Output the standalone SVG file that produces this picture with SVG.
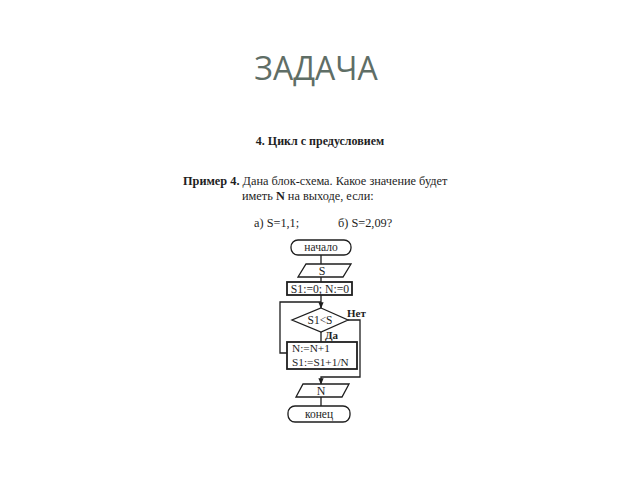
<svg xmlns="http://www.w3.org/2000/svg" width="640" height="480" viewBox="0 0 640 480">
<style>
.bg{fill:#ffffff}
.title{font-family:"Open Sans","Noto Sans",sans-serif;font-size:32px;fill:#5f6e66}
.t{font-family:"Liberation Serif","DejaVu Serif",serif;fill:#1e1e1e}
.b{font-weight:bold}
.shape{fill:#ffffff;stroke:#1e1e1e;stroke-width:1.3}
.thick{stroke-width:1.8}
.line{fill:none;stroke:#1e1e1e;stroke-width:1.3}
</style>
<defs>
<marker id="arr" viewBox="0 0 10 10" refX="9" refY="5" markerWidth="5" markerHeight="5" orient="auto">
<path d="M0,1 L10,5 L0,9 z" fill="#1e1e1e"/>
</marker>
</defs>
<rect class="bg" x="0" y="0" width="640" height="480"/>
<text class="title" x="316" y="80" text-anchor="middle">ЗАДАЧА</text>
<text class="t b" x="320" y="145" font-size="12" text-anchor="middle">4. Цикл с предусловием</text>
<text class="t" x="183" y="185" font-size="12.3"><tspan class="b">Пример 4.</tspan> Дана блок-схема. Какое значение будет</text>
<text class="t" x="242" y="200" font-size="12.3">иметь <tspan class="b">N</tspan> на выходе, если:</text>
<text class="t" x="254" y="227" font-size="12.3">а) S=1,1;</text>
<text class="t" x="338" y="227" font-size="12.3">б) S=2,09?</text>
<g id="connectors">
<line class="line" x1="321" y1="255" x2="321" y2="264"/>
<line class="line" x1="321" y1="277" x2="321" y2="282"/>
<line class="line" x1="321" y1="295" x2="321" y2="308" marker-end="url(#arr)"/>
<polyline class="line" points="287,353 280,353 280,302 321,302"/>
<line class="line" x1="321" y1="332" x2="321" y2="342"/>
<polyline class="line" points="348,320 360,320 360,377 321,377 321,384" marker-end="url(#arr)"/>
<line class="line" x1="321" y1="397" x2="321" y2="406"/>
<text class="t b" x="347" y="317" font-size="11">Нет</text>
<text class="t b" x="325" y="339" font-size="11">Да</text>
</g>
<g id="start">
<rect class="shape" x="291" y="240" width="60" height="15" rx="7" ry="7"/>
<text class="t" x="321" y="251" font-size="11.5" text-anchor="middle">начало</text>
</g>
<g id="inputS">
<polygon class="shape" points="306,264 351,264 343,277 298,277"/>
<text class="t" x="322" y="275" font-size="12" text-anchor="middle">S</text>
</g>
<g id="init">
<rect class="shape thick" x="287" y="282" width="65" height="13"/>
<text class="t" x="320" y="293" font-size="11.7" text-anchor="middle">S1:=0; N:=0</text>
</g>
<g id="cond">
<polygon class="shape" points="321,308 348,320 321,332 292,320"/>
<text class="t" x="320" y="324" font-size="11.5" text-anchor="middle">S1&lt;S</text>
</g>
<g id="body">
<rect class="shape thick" x="287" y="342" width="70" height="27"/>
<text class="t" x="292" y="352" font-size="11.3">N:=N+1</text>
<text class="t" x="292" y="365.5" font-size="11.3">S1:=S1+1/N</text>
</g>
<g id="outputN">
<polygon class="shape" points="303,384 349,384 342,397 296,397"/>
<text class="t" x="321" y="395" font-size="12" text-anchor="middle">N</text>
</g>
<g id="end">
<rect class="shape" x="288" y="406" width="62" height="16" rx="7" ry="7"/>
<text class="t" x="319" y="418" font-size="11.5" text-anchor="middle">конец</text>
</g>
</svg>
